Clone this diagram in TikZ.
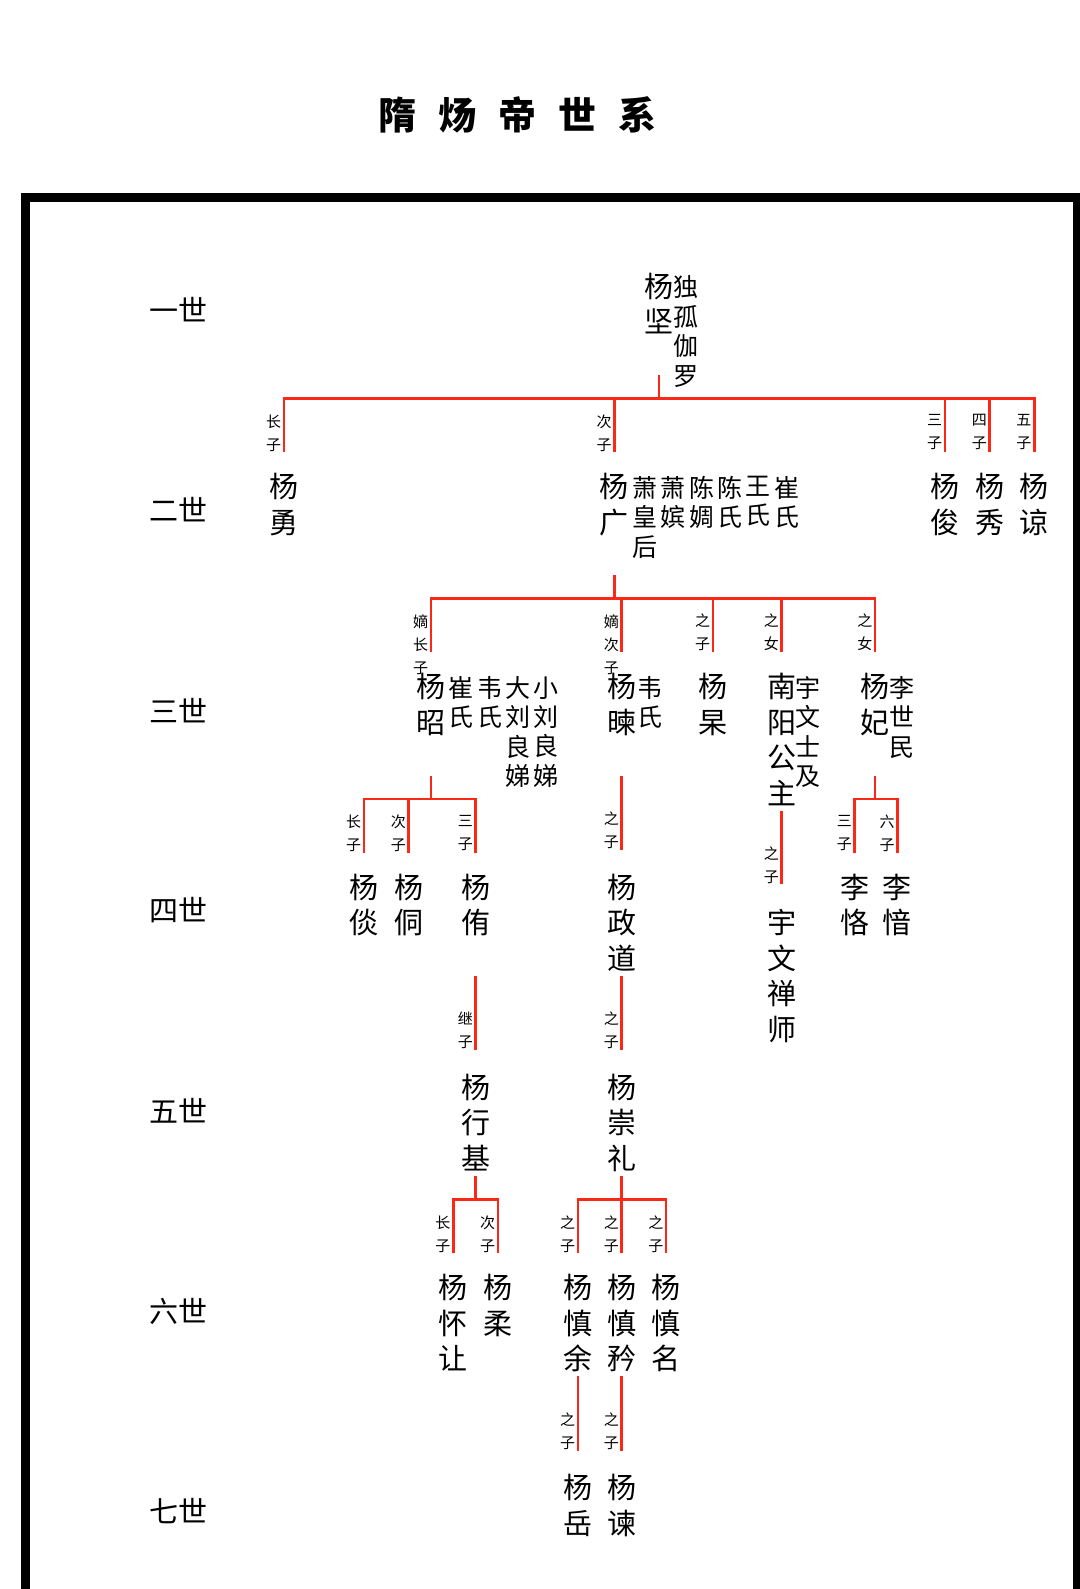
\documentclass[tikz,border=0pt]{standalone}
\usepackage{fontspec}
\setmainfont{Noto Sans CJK SC}
\definecolor{tiered}{RGB}{250,40,20}
\begin{document}
\begin{tikzpicture}[
        x=1.014pt,y=-1.014pt,
        tie/.style={draw=tiered,line width=2.6pt},
        heir/.style={anchor=north,inner sep=0,align=center,font=\fontsize{29}{35.5}\selectfont},
        mate/.style={anchor=north,inner sep=0,align=center,font=\fontsize{25}{29.4}\selectfont},
        rank/.style={pos=1,anchor=north east,inner sep=0,xshift=-1.5pt,yshift=39pt,align=center,font=\fontsize{15}{23}\selectfont},
        gen/.style={inner sep=0,font=\fontsize{29}{29}\selectfont},
        ]
        \useasboundingbox (0,0) rectangle (1065.1,1567.1);
        \draw[line width=9pt] (25.2,1580) -- (25.2,194.8) -- (1062.6,194.8) -- (1062.6,1580);
        \node (title) at (510.5,113.4) {\fontsize{38}{38}\selectfont\bfseries 隋\hspace{22pt}炀\hspace{22pt}帝\hspace{22pt}世\hspace{22pt}系};
        \foreach \g/\t in {1/一世,2/二世,3/三世,4/四世,5/五世,6/六世,7/七世}
          \node[gen] (g\g) at (176,{282.5+197.5*(\g-1)+23}) {\t};
        % 一世
        \node[heir] (jian) at (650,269) {杨\\坚};
        \node[mate] (dugu) at (677,272) {独\\孤\\伽\\罗};
        % 二世
        \node[heir] (yong) at (280,466.5) {杨\\勇};
        \node[heir] (guang) at (606,466.5) {杨\\广};
        \node[mate] (xiaohou) at (636,469.5) {萧\\皇\\后};
        \node[mate] (xiaopin) at (664,469.5) {萧\\嫔};
        \node[mate] (chenzhou) at (692,469.5) {陈\\婤};
        \node[mate] (chenshi) at (720,469.5) {陈\\氏};
        \node[mate] (wangshi) at (748,469.5) {王\\氏};
        \node[mate] (cuishi) at (776,469.5) {崔\\氏};
        \node[heir] (jun) at (932,466.5) {杨\\俊};
        \node[heir] (xiu) at (976,466.5) {杨\\秀};
        \node[heir] (liang) at (1020,466.5) {杨\\谅};
        % 三世
        \node[heir] (zhao) at (425,664) {杨\\昭};
        \node[mate] (cuishi2) at (455,667) {崔\\氏};
        \node[mate] (weishi) at (483,667) {韦\\氏};
        \node[mate] (daliu) at (510.5,667) {大\\刘\\良\\娣};
        \node[mate] (xiaoliu) at (538,667) {小\\刘\\良\\娣};
        \node[heir] (jian2) at (613,664) {杨\\暕};
        \node[mate] (weishi2) at (641,667) {韦\\氏};
        \node[heir] (gao) at (703,664) {杨\\杲};
        \node[heir] (nanyang) at (771,664) {南\\阳\\公\\主};
        \node[mate] (shiji) at (797,667) {宇\\文\\士\\及};
        \node[heir] (fei) at (863,664) {杨\\妃};
        \node[mate] (shimin) at (890,667) {李\\世\\民};
        % 四世
        \node[heir] (tan) at (359,861.5) {杨\\倓};
        \node[heir] (tong) at (403,861.5) {杨\\侗};
        \node[heir] (you) at (469,861.5) {杨\\侑};
        \node[heir] (zhengdao) at (613,861.5) {杨\\政\\道};
        \node[heir] (chanshi) at (771,896.5) {宇\\文\\禅\\师};
        \node[heir] (ke) at (843,861.5) {李\\恪};
        \node[heir] (yin) at (885,861.5) {李\\愔};
        % 五世
        \node[heir] (xingji) at (469,1059) {杨\\行\\基};
        \node[heir] (chongli) at (613,1059) {杨\\崇\\礼};
        % 六世
        \node[heir] (huairang) at (447,1256.5) {杨\\怀\\让};
        \node[heir] (rou) at (491,1256.5) {杨\\柔};
        \node[heir] (shenyu) at (570,1256.5) {杨\\慎\\余};
        \node[heir] (shenjin) at (613,1256.5) {杨\\慎\\矜};
        \node[heir] (shenming) at (657,1256.5) {杨\\慎\\名};
        % 七世
        \node[heir] (yue) at (570,1454) {杨\\岳};
        \node[heir] (jian3) at (613,1454) {杨\\谏};
        % connectors
        \coordinate (b1) at (0,393);
        \coordinate (b2) at (0,590);
        \coordinate (b3) at (0,788);
        \coordinate (b4) at (0,985.5);
        \coordinate (b5) at (0,1183);
        \coordinate (b6) at (0,1380.5);
        \draw[tie] (b1 -| jian) -- ++(0,-23);
        \draw[tie] (b1 -| yong) ++(0,53) |- (b1 -| liang) -- ++(0,53);
        \foreach \c/\r in {yong/长\\子,guang/次\\子,jun/三\\子,xiu/四\\子,liang/五\\子}
          \draw[tie] (b1 -| \c) -- ++(0,53) node[rank] {\r};
        \draw[tie] (b2 -| guang) -- ++(0,-23);
        \draw[tie] (b2 -| zhao) ++(0,53) |- (b2 -| fei) -- ++(0,53);
        \foreach \c/\r in {zhao/嫡\\长\\子,jian2/嫡\\次\\子,gao/之\\子,nanyang/之\\女,fei/之\\女}
          \draw[tie] (b2 -| \c) -- ++(0,53) node[rank] {\r};
        \draw[tie] (b3 -| zhao) -- ++(0,-23);
        \draw[tie] (b3 -| tan) ++(0,53) |- (b3 -| you) -- ++(0,53);
        \foreach \c/\r in {tan/长\\子,tong/次\\子,you/三\\子}
          \draw[tie] (b3 -| \c) -- ++(0,53) node[rank] {\r};
        \draw[tie] (b3 -| jian2) ++(0,-23) -- ++(0,73) node[rank] {之\\子};
        \draw[tie] (b3 -| nanyang) ++(0,12) -- ++(0,72) node[rank] {之\\子};
        \draw[tie] (b3 -| fei) -- ++(0,-23);
        \draw[tie] (b3 -| ke) ++(0,53) |- (b3 -| yin) -- ++(0,53);
        \foreach \c/\r in {ke/三\\子,yin/六\\子}
          \draw[tie] (b3 -| \c) -- ++(0,53) node[rank] {\r};
        \draw[tie] (b4 -| you) ++(0,-23) -- ++(0,73) node[rank] {继\\子};
        \draw[tie] (b4 -| zhengdao) ++(0,-23) -- ++(0,73) node[rank] {之\\子};
        \draw[tie] (b5 -| xingji) -- ++(0,-23);
        \draw[tie] (b5 -| huairang) ++(0,53) |- (b5 -| rou) -- ++(0,53);
        \foreach \c/\r in {huairang/长\\子,rou/次\\子}
          \draw[tie] (b5 -| \c) -- ++(0,53) node[rank] {\r};
        \draw[tie] (b5 -| chongli) -- ++(0,-23);
        \draw[tie] (b5 -| shenyu) ++(0,53) |- (b5 -| shenming) -- ++(0,53);
        \foreach \c in {shenyu,shenjin,shenming}
          \draw[tie] (b5 -| \c) -- ++(0,53) node[rank] {之\\子};
        \foreach \c in {shenyu,shenjin}
          \draw[tie] (b6 -| \c) ++(0,-23) -- ++(0,73) node[rank] {之\\子};
\end{tikzpicture}
\end{document}
